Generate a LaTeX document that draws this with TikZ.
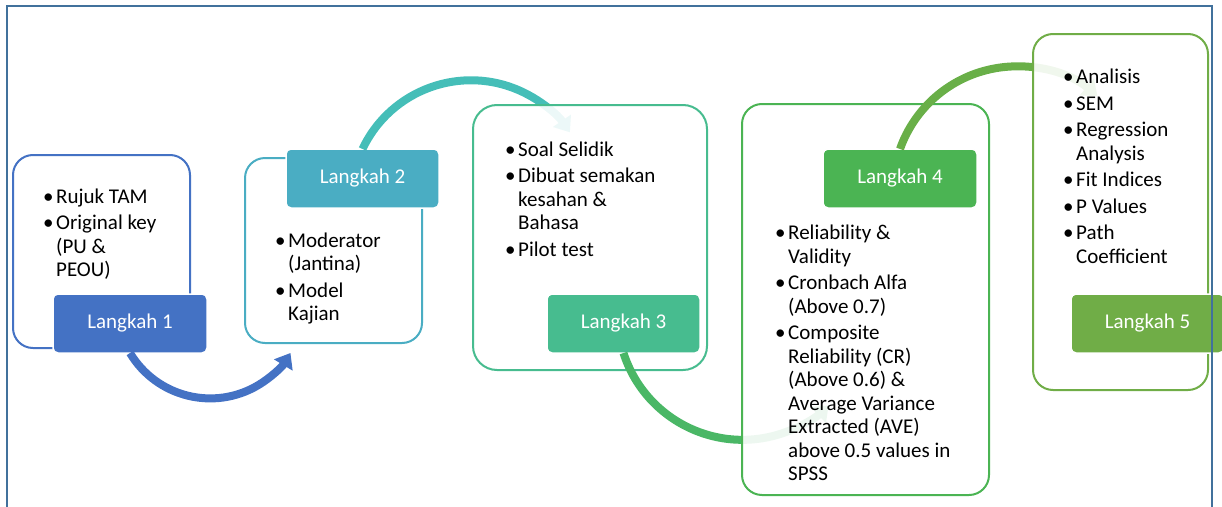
\documentclass[tikz,border=0pt]{standalone}
\usepackage{fontspec}
\setmainfont{Carlito}
\usetikzlibrary{arrows.meta}
\definecolor{c1}{HTML}{4472C4}
\definecolor{c2}{HTML}{4AADC3}
\definecolor{c3}{HTML}{47BC8F}
\definecolor{c4}{HTML}{4BB453}
\definecolor{c5}{HTML}{70AD47}
\definecolor{a2}{HTML}{45BEB8}
\definecolor{a3}{HTML}{4AB766}
\definecolor{a4}{HTML}{69AF48}
\definecolor{framecol}{HTML}{41719C}
\newcommand\bu{\makebox[11pt][l]{\hspace{-2pt}•}}
\begin{document}
\begin{tikzpicture}[x=1pt,y=-1pt,
  outerbox/.style={draw, line width=2pt, rounded corners=20pt, fill=white, fill opacity=0.9, text opacity=1, inner sep=0pt, outer sep=0pt, anchor=north west},
  labbox/.style={draw=white, line width=1.5pt, rounded corners=5pt, text=white, font=\fontsize{21}{23.5}\selectfont, minimum width=154pt, minimum height=59pt, inner sep=0pt, outer sep=0pt, anchor=north west},
  items/.style={anchor=north west, inner sep=0pt, font=\fontsize{21}{23.5}\selectfont, text=black},
  arr/.style={line width=8pt, -{Triangle[width=21pt,length=14pt]}},
  framestyle/.style={draw=framecol, line width=2.5pt}]
\useasboundingbox (0,0) rectangle (1222,506);
\clip (0,0) rectangle (1222,506);

% Step 1
\node[outerbox, draw=c1, minimum width=177pt, minimum height=193pt] (b1) at (13,155) {};
\node[items] (t1) at (45,186.5) {\begin{tabular}{@{}l@{}l@{}}
\bu & Rujuk TAM\\[3pt]
\bu & Original key\\
 & (PU \&\\
 & PEOU)
\end{tabular}};
\node[labbox, fill=c1] (l1) at (53,294) {Langkah 1};
\draw[arr, draw=c1] (l1.south) arc[start angle=149, end angle=31, radius=93.6];

% Step 2
\node[outerbox, draw=c2, minimum width=177pt, minimum height=185pt] (b2) at (245,158) {};
\node[items] (t2) at (277,230.5) {\begin{tabular}{@{}l@{}l@{}}
\bu & Moderator\\
 & (Jantina)\\[3pt]
\bu & Model\\
 & Kajian
\end{tabular}};
\node[labbox, fill=c2, minimum width=153pt] (l2) at (286,149) {Langkah 2};
\draw[arr, draw=a2] (l2.north) arc[start angle=205.3, end angle=325.5, radius=120];

% Step 3
\node[outerbox, draw=c3, minimum width=234pt, minimum height=265pt, rounded corners=24pt] (b3) at (473,105) {};
\node[items] (t3) at (507,139.5) {\begin{tabular}{@{}l@{}l@{}}
\bu & Soal Selidik\\[3pt]
\bu & Dibuat semakan\\
 & kesahan \&\\
 & Bahasa\\[3pt]
\bu & Pilot test
\end{tabular}};
\node[labbox, fill=c3, minimum width=153pt] (l3) at (547,294) {Langkah 3};
\draw[arr, draw=a3] (l3.south) arc[start angle=162.2, end angle=46.5, radius=125];

% Step 4
\node[outerbox, draw=c4, minimum width=247pt, minimum height=391pt] (b4) at (742,104) {};
\node[items] (t4) at (777,222.9) {\begin{tabular}{@{}l@{}l@{}}
\bu & Reliability \&\\
 & Validity\\[3pt]
\bu & Cronbach Alfa\\
 & (Above 0.7)\\[3pt]
\bu & Composite\\
 & Reliability (CR)\\
 & (Above 0.6) \&\\
 & Average Variance\\
 & Extracted (AVE)\\
 & above 0.5 values in\\
 & SPSS
\end{tabular}};
\node[labbox, fill=c4] (l4) at (823,149) {Langkah 4};
\draw[arr, draw=a4] (l4.north) arc[start angle=199.5, end angle=310.5, radius=124];

% Step 5
\node[outerbox, draw=c5, minimum width=175pt, minimum height=356pt] (b5) at (1033,34) {};
\node[items] (t5) at (1065,66.9) {\begin{tabular}{@{}l@{}l@{}}
\bu & Analisis\\[3pt]
\bu & SEM\\[3pt]
\bu & Regression\\
 & Analysis\\[3pt]
\bu & Fit Indices\\[3pt]
\bu & P Values\\[3pt]
\bu & Path\\
 & Coefficient
\end{tabular}};
\node[labbox, fill=c5, minimum width=153pt] (l5) at (1071,294) {Langkah 5};

% Frame
\coordinate (fbl) at (7,510);
\coordinate (ftl) at (7,6);
\coordinate (ftr) at (1212,6);
\coordinate (fbr) at (1212,510);
\draw[framestyle] (fbl) -- (ftl) -- (ftr) -- (fbr);
\end{tikzpicture}
\end{document}
